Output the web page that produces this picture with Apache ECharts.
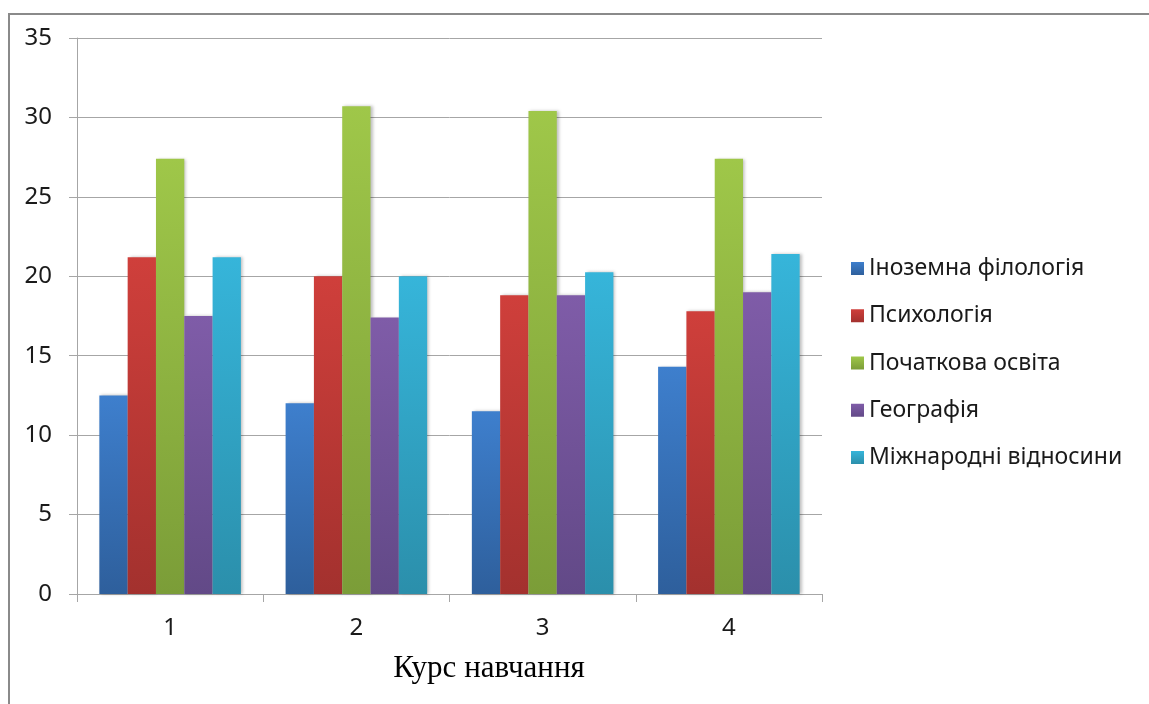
<!DOCTYPE html>
<html>
<head>
<meta charset="utf-8">
<script src="https://cdn.jsdelivr.net/npm/echarts@6/dist/echarts.min.js"></script>
<style>
  html, body { margin: 0; padding: 0; background: #fff; }
  #chart { width: 1149px; height: 704px; }
</style>
</head>
<body>
<div id="chart"></div>
<script>
// Course years on the category axis
const courses = ['1', '2', '3', '4'];

// One array per specialty, values per course year
const foreignPhilology = [12.5, 12.0, 11.5, 14.3];
const psychology = [21.2, 20.0, 18.8, 17.8];
const primaryEducation = [27.4, 30.7, 30.4, 27.4];
const geography = [17.5, 17.4, 18.8, 19.0];
const intlRelations = [21.2, 20.0, 20.25, 21.4];

const seriesNames = ['Іноземна філологія', 'Психологія', 'Початкова освіта', 'Географія', 'Міжнародні відносини'];
const seriesData = [foreignPhilology, psychology, primaryEducation, geography, intlRelations];
const axisTitle = 'Курс навчання';

// Top / bottom colours of each bar's vertical gradient
const palette = [
  ['#3e7fcd', '#2e5f9c'],
  ['#cf3f3b', '#a3312e'],
  ['#9fc749', '#7b9d38'],
  ['#7f5ca8', '#624987'],
  ['#36b5da', '#2b8fab']
];

const chart = echarts.init(document.getElementById('chart'), null, { renderer: 'canvas' });

const series = seriesNames.map((name, i) => ({
  name: name,
  type: 'bar',
  data: seriesData[i],
  barGap: '0%',
  barCategoryGap: '24%',
  itemStyle: {
    color: new echarts.graphic.LinearGradient(0, 0, 0, 1, [
      { offset: 0, color: palette[i][0] },
      { offset: 1, color: palette[i][1] }
    ]),
    shadowColor: 'rgba(0,0,0,0.25)',
    shadowBlur: 3,
    shadowOffsetX: 2
  }
}));

chart.setOption({
  animation: false,
  backgroundColor: '#ffffff',
  color: palette.map(p => p[0]),
  graphic: [
    // frame around the chart area
    { type: 'line', shape: { x1: 8, y1: 14, x2: 1149, y2: 14 }, style: { stroke: '#8a8a8a', lineWidth: 2 } },
    { type: 'line', shape: { x1: 9, y1: 13, x2: 9, y2: 704 }, style: { stroke: '#8a8a8a', lineWidth: 2 } },
    // category axis title
    {
      type: 'text', x: 489, y: 669,
      style: {
        text: axisTitle, fontFamily: 'Liberation Serif', fontSize: 31, fill: '#000',
        textAlign: 'center', textVerticalAlign: 'middle'
      }
    }
  ],
  grid: { left: 77, right: 327, top: 38, bottom: 110, containLabel: false },
  legend: {
    orient: 'vertical',
    left: 846,
    top: 252,
    icon: 'rect',
    itemWidth: 13,
    itemHeight: 13,
    itemGap: 24.25,
    data: seriesNames,
    textStyle: { fontFamily: 'Noto Sans', fontSize: 23, lineHeight: 23, color: '#1a1a1a' }
  },
  xAxis: {
    type: 'category',
    data: courses,
    axisLine: { lineStyle: { color: '#a6a6a6', width: 1 } },
    axisTick: { show: true, length: 8, alignWithLabel: false, lineStyle: { color: '#a6a6a6' } },
    axisLabel: { fontFamily: 'Noto Sans', fontSize: 24, color: '#1a1a1a', margin: 22 }
  },
  yAxis: {
    type: 'value',
    min: 0,
    max: 35,
    interval: 5,
    axisLine: { show: true, lineStyle: { color: '#a6a6a6', width: 1 } },
    axisTick: { show: true, length: 8, lineStyle: { color: '#a6a6a6' } },
    axisLabel: { fontFamily: 'Noto Sans', fontSize: 24, color: '#1a1a1a', margin: 25 },
    splitLine: { lineStyle: { color: '#a6a6a6', width: 1 } }
  },
  series: series
});
</script>
</body>
</html>
